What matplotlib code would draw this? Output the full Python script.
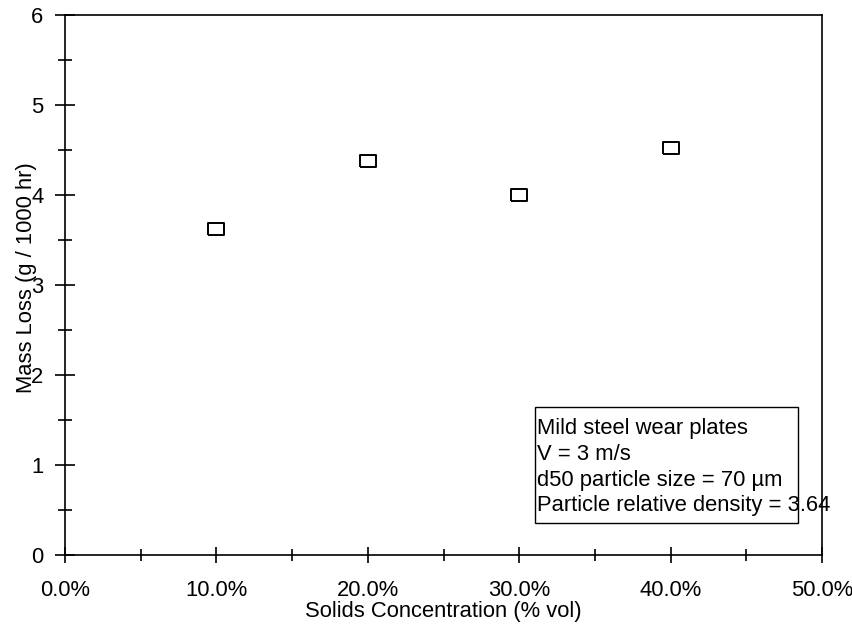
import matplotlib
matplotlib.use("Agg")
import matplotlib.pyplot as plt
from matplotlib.patches import Rectangle
from matplotlib.ticker import FuncFormatter, MultipleLocator

plt.rcParams["font.family"] = ["Liberation Sans", "DejaVu Sans"]

# data
concentration = [0.10, 0.20, 0.30, 0.40]
mass_loss = [3.62, 4.38, 4.00, 4.52]
note_lines = [
    "Mild steel wear plates",
    "V = 3 m/s",
    "d50 particle size = 70 µm",
    "Particle relative density = 3.64",
]

# slightly flat square marker, like the original
box_marker = [(-1, -0.76), (1, -0.76), (1, 0.76), (-1, 0.76), (-1, -0.76)]

fig = plt.figure(figsize=(8.52, 6.28), dpi=100)
ax = fig.add_axes([65 / 852, 1 - 555 / 628, 757 / 852, 540 / 628])

ax.plot(concentration, mass_loss, linestyle="none", marker=box_marker, markersize=12,
        markerfacecolor="white", markeredgecolor="black", markeredgewidth=1.4)

ax.set_xlim(0, 0.5)
ax.set_ylim(0, 6)
ax.xaxis.set_major_locator(MultipleLocator(0.1))
ax.xaxis.set_minor_locator(MultipleLocator(0.05))
ax.yaxis.set_major_locator(MultipleLocator(1))
ax.yaxis.set_minor_locator(MultipleLocator(0.5))
ax.xaxis.set_major_formatter(FuncFormatter(lambda v, p: f"{v * 100:.1f}%"))

fs = 15.8
for s in ax.spines.values():
    s.set_linewidth(1.2)
ax.tick_params(axis="x", which="major", direction="inout", length=12, width=1.2,
               labelsize=fs, pad=12)
ax.tick_params(axis="x", which="minor", direction="inout", length=9, width=1.2)
ax.tick_params(axis="y", which="major", direction="inout", length=15, width=1.2,
               labelsize=fs, pad=8)
ax.tick_params(axis="y", which="minor", direction="inout", length=10, width=1.2)

ax.set_xlabel("Solids Concentration (% vol)", fontsize=fs, labelpad=0)
ax.set_ylabel("Mass Loss (g / 1000 hr)", fontsize=fs)
ax.yaxis.set_label_coords(-0.037, 0.513)

# note box (the text runs past the right edge of its box in the original)
ax.add_patch(Rectangle((0.621, 0.059), 0.347, 0.215, transform=ax.transAxes,
                       facecolor="white", edgecolor="black", linewidth=1.0))
ax.text(0.624, 0.253, "\n".join(note_lines), transform=ax.transAxes,
        fontsize=fs, va="top", ha="left", linespacing=1.29)

fig.savefig("out.png", dpi=100)
